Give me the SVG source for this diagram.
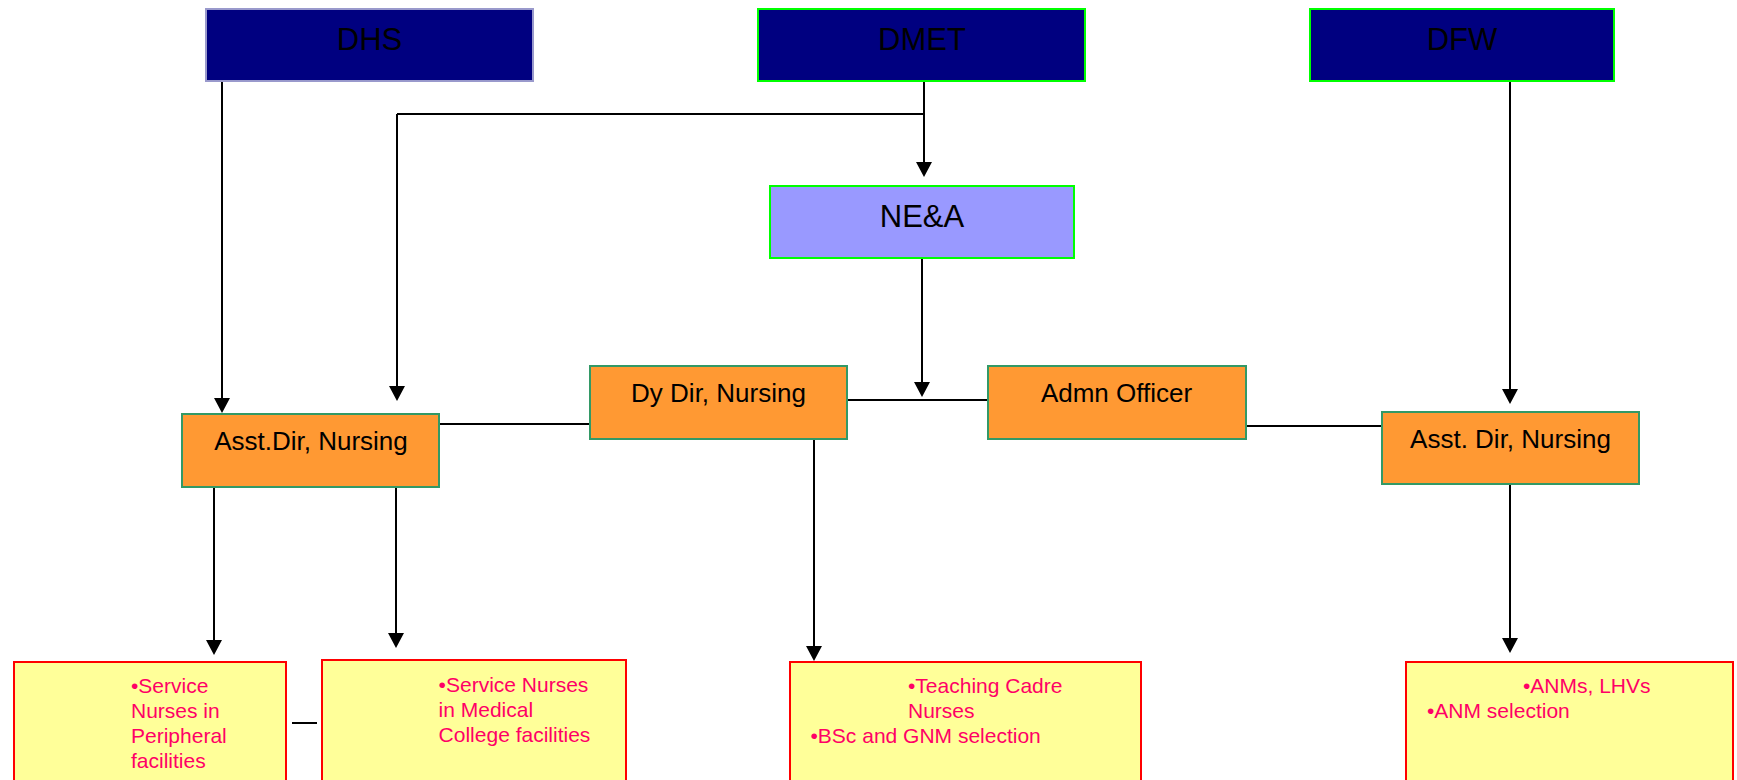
<svg xmlns="http://www.w3.org/2000/svg" width="1737" height="780" viewBox="0 0 1737 780">
<style>
.top{fill:#000080;stroke-width:2}
.tl{font-family:"Liberation Sans",Arial,sans-serif;font-size:31px;fill:#000;text-anchor:middle}
.mid{fill:#ff9933;stroke:#339966;stroke-width:2}
.ml{font-family:"Liberation Sans",Arial,sans-serif;font-size:26px;fill:#000;text-anchor:middle}
.leaf{fill:#ffff99;stroke:#ff0000;stroke-width:2}
.ll{font-family:"Liberation Sans",Arial,sans-serif;font-size:21px;fill:#ff0066}
.c{stroke:#000;stroke-width:2;fill:none}
.a{marker-end:url(#ah)}
</style>
<defs>
<marker id="ah" markerUnits="userSpaceOnUse" markerWidth="15" markerHeight="16" viewBox="0 0 15 16" refX="0" refY="8" orient="auto">
<path d="M0,0 L15,8 L0,16 z" fill="#000"/>
</marker>
</defs>
<rect width="1737" height="780" fill="#fff"/>

<g id="connectors">
<line class="c a" x1="222" y1="81" x2="222" y2="398"/>
<polyline class="c" points="924,81 924,114 397,114"/>
<line class="c a" x1="924" y1="114" x2="924" y2="162"/>
<line class="c a" x1="397" y1="114" x2="397" y2="386"/>
<line class="c a" x1="1510" y1="81" x2="1510" y2="389"/>
<line class="c a" x1="922" y1="258" x2="922" y2="382"/>
<line class="c" x1="439" y1="424" x2="590" y2="424"/>
<line class="c" x1="847" y1="400" x2="988" y2="400"/>
<line class="c" x1="1240" y1="426" x2="1382" y2="426"/>
<line class="c a" x1="214" y1="487" x2="214" y2="640"/>
<line class="c a" x1="396" y1="487" x2="396" y2="633"/>
<line class="c a" x1="814" y1="439" x2="814" y2="646"/>
<line class="c a" x1="1510" y1="484" x2="1510" y2="638"/>
<line class="c" x1="292" y1="723" x2="317" y2="723"/>
</g>

<g id="dhs">
<rect class="top" x="206" y="9" width="327" height="72" stroke="#9999cc"/>
<text class="tl" x="369.5" y="50">DHS</text>
</g>
<g id="dmet">
<rect class="top" x="758" y="9" width="327" height="72" stroke="#00ff00"/>
<text class="tl" x="922" y="50">DMET</text>
</g>
<g id="dfw">
<rect class="top" x="1310" y="9" width="304" height="72" stroke="#00ff00"/>
<text class="tl" x="1462" y="50">DFW</text>
</g>
<g id="nea">
<rect x="770" y="186" width="304" height="72" fill="#9999ff" stroke="#00ff00" stroke-width="2"/>
<text class="tl" x="922" y="227">NE&amp;A</text>
</g>
<g id="asst-dir-left">
<rect class="mid" x="182" y="414" width="257" height="73"/>
<text class="ml" x="311" y="450">Asst.Dir, Nursing</text>
</g>
<g id="dy-dir">
<rect class="mid" x="590" y="366" width="257" height="73"/>
<text class="ml" x="718.5" y="401.5">Dy Dir, Nursing</text>
</g>
<g id="admn-officer">
<rect class="mid" x="988" y="366" width="258" height="73"/>
<text class="ml" x="1116.5" y="401.5">Admn Officer</text>
</g>
<g id="asst-dir-right">
<rect class="mid" x="1382" y="412" width="257" height="72"/>
<text class="ml" x="1510.5" y="447.5">Asst. Dir, Nursing</text>
</g>
<g id="leaf-peripheral">
<rect class="leaf" x="14" y="662" width="272" height="130"/>
<text class="ll"><tspan x="131" y="693">•Service</tspan><tspan x="131" y="718">Nurses in</tspan><tspan x="131" y="743">Peripheral</tspan><tspan x="131" y="768">facilities</tspan></text>
</g>
<g id="leaf-medical">
<rect class="leaf" x="322" y="660" width="304" height="130"/>
<text class="ll"><tspan x="438.6" y="691.5">•Service Nurses</tspan><tspan x="438.6" y="716.5">in Medical</tspan><tspan x="438.6" y="741.5">College facilities</tspan></text>
</g>
<g id="leaf-teaching">
<rect class="leaf" x="790" y="662" width="351" height="130"/>
<text class="ll"><tspan x="908" y="692.5">•Teaching Cadre</tspan><tspan x="908" y="717.5">Nurses</tspan><tspan x="810.5" y="743">•BSc and GNM selection</tspan></text>
</g>
<g id="leaf-anm">
<rect class="leaf" x="1406" y="662" width="327" height="130"/>
<text class="ll"><tspan x="1523" y="692.5">•ANMs, LHVs</tspan><tspan x="1427" y="717.5">•ANM selection</tspan></text>
</g>
</svg>
